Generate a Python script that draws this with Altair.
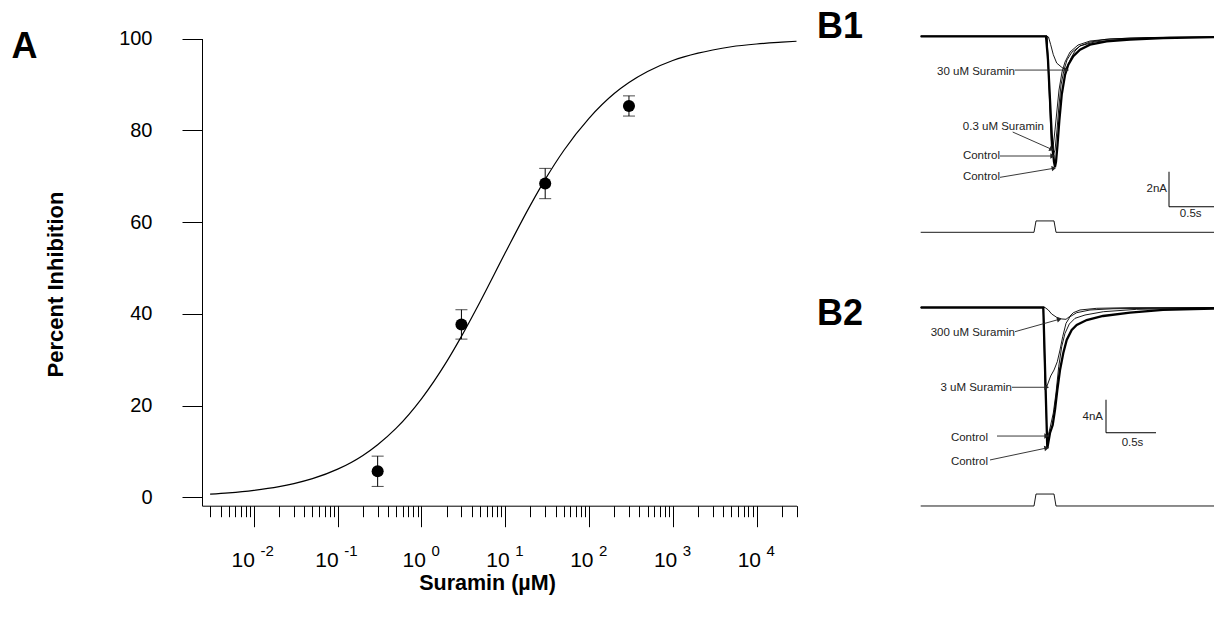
import math
import altair as alt
import pandas as pd

FONT = "Liberation Sans"
W, H = 1214, 619

# ---------------- Panel A : dose-response ----------------
conc = [0.3, 3, 30, 300]
inhib = [5.7, 37.7, 68.4, 85.3]
sem = [3.3, 3.2, 3.3, 2.2]

fit_conc = [0.003, 0.005, 0.01, 0.02, 0.03, 0.05, 0.1, 0.2, 0.3, 0.5, 1, 2, 3, 5,
            10, 20, 30, 50, 100, 200, 300, 500, 1000, 2000, 3000, 5000, 10000, 20000, 30000]
fit_pct = [0.74, 1.01, 1.55, 2.36, 3.02, 4.09, 6.16, 9.16, 11.5, 15.1, 21.5, 29.6, 35.1, 42.6,
           53.3, 63.7, 69.3, 75.6, 82.6, 88.0, 90.4, 92.8, 95.2, 96.8, 97.5, 98.2, 98.8, 99.2, 99.4]

decades = [0.01, 0.1, 1, 10, 100, 1000, 10000]
exponents = ["-2", "-1", "0", "1", "2", "3", "4"]
minor = [m * 10.0 ** e for e in range(-3, 5) for m in range(2, 10)
         if 0.0029 < m * 10.0 ** e < 30001]
y_ticks = [0, 20, 40, 60, 80, 100]

A_X = alt.Scale(type="log", domain=[0.0024, 30000], range=[202, 796.5], nice=False)
A_Y = alt.Scale(domain=[-1.8, 100], range=[505.7, 38.5], zero=False, nice=False)

df_fit = pd.DataFrame({"conc": fit_conc, "pct": fit_pct})
df_pts = pd.DataFrame({"conc": conc, "pct": inhib,
                       "lo": [v - s for v, s in zip(inhib, sem)],
                       "hi": [v + s for v, s in zip(inhib, sem)]})
df_lab = pd.DataFrame({"conc": decades, "exp": exponents,
                       "neg": [e.startswith("-") for e in exponents]})

is_major = "abs(log(datum.value)/LN10 - round(log(datum.value)/LN10)) < 0.001"

x_axis = alt.Axis(values=decades + minor, labels=False, grid=False,
                  tickSize={"condition": {"test": is_major, "value": 21}, "value": 11},
                  tickColor="black", tickWidth=1, domainColor="black", domainWidth=1,
                  offset=-113.3, title="Suramin (µM)", titleFont=FONT, titleFontSize=21.5,
                  titleFontWeight="bold", titleColor="black", titleX=487, titleY=84,
                  titleBaseline="alphabetic", titleAlign="center")
y_axis = alt.Axis(values=y_ticks, grid=False, tickSize=20, tickColor="black", tickWidth=1,
                  domainColor="black", domainWidth=1, labelFont=FONT, labelFontSize=20,
                  labelColor="black", labelPadding=30, offset=-202,
                  title="Percent Inhibition", titleFont=FONT, titleFontSize=22,
                  titleFontWeight="bold", titleColor="black", titleX=-147, titleY=284,
                  titleAngle=270, titleBaseline="middle", titleAlign="center")

curve = alt.Chart(df_fit).mark_line(color="black", strokeWidth=1.2, interpolate="monotone").encode(
    x=alt.X("conc:Q", scale=A_X, axis=x_axis),
    y=alt.Y("pct:Q", scale=A_Y, axis=y_axis),
)
err = alt.Chart(df_pts).mark_rule(color="black", strokeWidth=1).encode(
    x="conc:Q", y="lo:Q", y2="hi:Q")
caps = alt.Chart(df_pts).transform_fold(["lo", "hi"], as_=["k", "v"]).mark_tick(
    orient="horizontal", size=12, thickness=1, color="black").encode(x="conc:Q", y="v:Q")
pts = alt.Chart(df_pts).mark_circle(size=145, color="black", opacity=1).encode(
    x="conc:Q", y="pct:Q")


def ten_layer(neg, dx10, dxexp):
    base = alt.Chart(df_lab).transform_filter(
        "datum.neg" if neg else "!datum.neg")
    ten = base.mark_text(font=FONT, fontSize=21, align="right", baseline="alphabetic",
                         dx=dx10, color="black").encode(
        x="conc:Q", y=alt.Y(datum=-15.17), text=alt.value("10"))
    ex = base.mark_text(font=FONT, fontSize=15, align="left", baseline="alphabetic",
                        dx=dxexp, color="black").encode(
        x="conc:Q", y=alt.Y(datum=-12.75), text="exp:N")
    return [ten, ex]


letterA = alt.Chart(pd.DataFrame({"conc": [1.28e-5], "pct": [95.75], "txt": ["A"]})).mark_text(
    font=FONT, fontSize=36, fontWeight="bold", align="left", baseline="alphabetic",
    color="black").encode(x="conc:Q", y="pct:Q", text="txt:N")

panelA = alt.layer(curve, err, caps, pts, *ten_layer(True, 1, 6.5),
                   *ten_layer(False, 4.5, 10), letterA)

# ---------------- Panels B1 / B2 : current traces ----------------
PX_S = 100.0      # px per second
PX_NA1 = 17.5     # px per nA in B1
PX_NA2 = 8.25     # px per nA in B2

b1_ctrl1_t = [0, 1.253, 1.273, 1.293, 1.313, 1.333, 1.343, 1.353, 1.368, 1.386, 1.410, 1.443,
              1.476, 1.526, 1.593, 1.693, 1.860, 2.093, 2.423, 2.993]
b1_ctrl1_i = [0, 0, -1.35, -3.64, -5.93, -7.18, -7.45, -7.18, -6.21, -4.84, -3.35, -2.21,
              -1.62, -1.14, -0.77, -0.48, -0.29, -0.19, -0.10, -0.04]
b1_ctrl2_t = [0, 1.263, 1.318, 1.343, 1.363, 1.383, 1.403, 1.433, 1.463, 1.513, 1.593, 1.743,
              1.993, 2.393, 2.993]
b1_ctrl2_i = [0, 0, -6.90, -6.50, -5.35, -3.93, -2.78, -1.93, -1.35, -0.90, -0.55, -0.32,
              -0.18, -0.09, -0.04]
b1_s03_t = [0, 1.263, 1.308, 1.323, 1.343, 1.363, 1.383, 1.413, 1.443, 1.493, 1.573, 1.693,
            1.893, 2.293, 2.993]
b1_s03_i = [0, 0, -6.50, -6.38, -5.35, -4.21, -3.07, -2.04, -1.47, -0.90, -0.50, -0.27,
            -0.15, -0.07, -0.04]
b1_s30_t = [0, 1.263, 1.278, 1.300, 1.326, 1.360, 1.410, 1.443, 1.473, 1.503, 1.543, 1.593,
            1.693, 1.843, 2.093, 2.493, 2.993]
b1_s30_i = [0, 0, -0.04, -0.48, -1.05, -1.53, -1.77, -1.90, -1.65, -1.24, -0.84, -0.55,
            -0.33, -0.18, -0.10, -0.05, -0.04]
stim_t = [0, 1.133, 1.153, 1.333, 1.353, 2.993]
b1_stim_i = [-11.2, -11.2, -10.55, -10.55, -11.2, -11.2]

b2_ctrl1_t = [0, 1.226, 1.266, 1.293, 1.320, 1.343, 1.366, 1.393, 1.426, 1.460, 1.510, 1.560,
              1.660, 1.823, 2.093, 2.423, 2.993]
b2_ctrl1_i = [0, 0, -17.07, -15.21, -14.24, -12.42, -10.0, -7.58, -5.52, -3.94, -2.73, -2.12,
              -1.52, -1.03, -0.63, -0.30, -0.10]
b2_ctrl2_t = [0, 1.226, 1.263, 1.293, 1.326, 1.353, 1.380, 1.410, 1.443, 1.486, 1.543, 1.643,
              1.826, 2.160, 2.993]
b2_ctrl2_i = [0, 0, -16.06, -14.61, -12.79, -10.36, -7.18, -4.75, -3.13, -2.0, -1.31, -0.91,
              -0.51, -0.22, -0.06]
b2_s3_t = [0, 1.226, 1.243, 1.263, 1.300, 1.333, 1.366, 1.393, 1.420, 1.453, 1.493, 1.560,
           1.693, 1.923, 2.993]
b2_s3_i = [0, 0, -9.39, -9.52, -8.30, -7.58, -6.57, -5.15, -3.54, -1.92, -1.12, -0.63,
           -0.30, -0.15, -0.02]
b2_s300_t = [0, 1.243, 1.276, 1.310, 1.360, 1.410, 1.453, 1.486, 1.526, 1.593, 1.760, 2.093, 2.993]
b2_s300_i = [0, 0, -0.30, -0.79, -1.19, -1.39, -1.43, -1.12, -0.63, -0.30, -0.10, -0.02, 0]
b2_stim_i = [-24.06, -24.06, -22.61, -22.61, -24.06, -24.06]

# annotations: label, text anchor (t, I), arrow start (t, I), arrow tip (t, I)
b1_notes = [
    ("30 uM Suramin", 0.943, -2.03, 0.94, -1.93, 1.46, -1.93),
    ("0.3 uM Suramin", 1.233, -5.17, 0.920, -5.47, 1.310, -6.46),
    ("Control", 0.793, -6.84, 0.793, -6.84, 1.320, -6.84),
    ("Control", 0.793, -8.06, 0.793, -8.06, 1.333, -7.54),
]
b2_notes = [
    ("300 uM Suramin", 0.943, -3.09, 0.943, -2.93, 1.386, -1.43),
    ("3 uM Suramin", 0.913, -9.76, 0.913, -9.67, 1.26, -9.67),
    ("Control", 0.673, -15.82, 0.763, -15.58, 1.26, -15.58),
    ("Control", 0.673, -18.69, 0.693, -18.48, 1.26, -17.03),
]
# scale bars: origin (t, I), amplitude (nA), duration (s), label positions
b1_bar = dict(t=2.483, i=-9.74, amp=2, dur=0.5, amp_lab="2nA", amp_t=2.463, amp_i=-8.73,
              dur_lab="0.5s", dur_t=2.70, dur_i=-10.17)
b2_bar = dict(t=1.853, i=-15.18, amp=4, dur=0.5, amp_lab="4nA", amp_t=1.823, amp_i=-13.24,
              dur_lab="0.5s", dur_t=2.118, dur_i=-16.39)


def traces_df(series):
    rows = []
    for name, ts, cs in series:
        for k, (t, c) in enumerate(zip(ts, cs)):
            rows.append({"trace": name, "idx": k, "t": t, "I": c})
    return pd.DataFrame(rows)


def panel_b(thick, thin, notes, bar, letter, letter_i, y_dom, y_rng, px_na):
    xs = alt.Scale(domain=[0, 3.0], range=[920.7, 1220.7], nice=False, zero=False)
    ys = alt.Scale(domain=y_dom, range=y_rng, nice=False, zero=False)
    X = alt.X("t:Q", scale=xs, axis=None)
    Y = alt.Y("I:Q", scale=ys, axis=None)
    thin_l = alt.Chart(traces_df(thin)).mark_line(color="black", strokeWidth=0.9).encode(
        x=X, y=Y, detail="trace:N", order="idx:Q")
    thick_l = alt.Chart(traces_df(thick)).mark_line(color="black", strokeWidth=2.3).encode(
        x=X, y=Y, detail="trace:N", order="idx:Q")
    nd = pd.DataFrame([{"lab": n[0], "t": n[1], "I": n[2], "t0": n[3], "i0": n[4],
                        "t1": n[5], "i1": n[6],
                        "ang": math.degrees(math.atan2(-(n[6] - n[4]) * px_na,
                                                       (n[5] - n[3]) * PX_S)) % 360}
                       for n in notes])
    txt = alt.Chart(nd).mark_text(font=FONT, fontSize=11.5, align="right", baseline="middle",
                                  color="#222").encode(x="t:Q", y="I:Q", text="lab:N")
    arr = alt.Chart(nd).mark_rule(color="#222", strokeWidth=0.9).encode(
        x="t0:Q", x2="t1:Q", y="i0:Q", y2="i1:Q")
    head = alt.Chart(nd).mark_point(shape="triangle-right", filled=True, size=30,
                                    color="#222", opacity=1).encode(
        x="t1:Q", y="i1:Q", angle=alt.Angle("ang:Q", scale=None))
    bd = pd.DataFrame([{"t": bar["t"], "I": bar["i"], "t2": bar["t"], "I2": bar["i"] + bar["amp"]},
                       {"t": bar["t"], "I": bar["i"], "t2": bar["t"] + bar["dur"], "I2": bar["i"]}])
    bars = alt.Chart(bd).mark_rule(color="black", strokeWidth=1).encode(
        x="t:Q", x2="t2:Q", y="I:Q", y2="I2:Q")
    bl = pd.DataFrame([{"t": bar["amp_t"], "I": bar["amp_i"], "lab": bar["amp_lab"], "al": "right"},
                       {"t": bar["dur_t"], "I": bar["dur_i"], "lab": bar["dur_lab"], "al": "center"}])
    bt1 = alt.Chart(bl).transform_filter("datum.al == 'right'").mark_text(
        font=FONT, fontSize=11.5, align="right", baseline="middle", color="#222").encode(
        x="t:Q", y="I:Q", text="lab:N")
    bt2 = alt.Chart(bl).transform_filter("datum.al == 'center'").mark_text(
        font=FONT, fontSize=11.5, align="center", baseline="middle", color="#222").encode(
        x="t:Q", y="I:Q", text="lab:N")
    let = alt.Chart(pd.DataFrame({"t": [-1.037], "I": [letter_i], "lab": [letter]})).mark_text(
        font=FONT, fontSize=36, fontWeight="bold", align="left", baseline="alphabetic",
        color="black").encode(x="t:Q", y="I:Q", text="lab:N")
    return alt.layer(thin_l, thick_l, arr, head, txt, bars, bt1, bt2, let)


panelB1 = panel_b(
    thick=[("Control", b1_ctrl1_t, b1_ctrl1_i)],
    thin=[("Control 2", b1_ctrl2_t, b1_ctrl2_i), ("0.3 uM", b1_s03_t, b1_s03_i),
          ("30 uM", b1_s30_t, b1_s30_i), ("stimulus", stim_t, b1_stim_i)],
    notes=b1_notes, bar=b1_bar, letter="B1", letter_i=-0.1,
    y_dom=[-12, 1], y_rng=[36.3 + 12 * PX_NA1, 36.3 - 1 * PX_NA1], px_na=PX_NA1)

panelB2 = panel_b(
    thick=[("Control", b2_ctrl1_t, b2_ctrl1_i)],
    thin=[("Control 2", b2_ctrl2_t, b2_ctrl2_i), ("3 uM", b2_s3_t, b2_s3_i),
          ("300 uM", b2_s300_t, b2_s300_i), ("stimulus", stim_t, b2_stim_i)],
    notes=b2_notes, bar=b2_bar, letter="B2", letter_i=-2.12,
    y_dom=[-25, 1], y_rng=[307.5 + 25 * PX_NA2, 307.5 - 1 * PX_NA2], px_na=PX_NA2)

chart = alt.layer(panelA, panelB1, panelB2).resolve_scale(
    x="independent", y="independent"
).properties(
    width=W, height=H, padding=0, autosize=alt.AutoSizeParams(type="none"),
    background="white"
).configure_view(stroke=None)

chart.save("out.html", embed_options={"renderer": "svg", "actions": False})
